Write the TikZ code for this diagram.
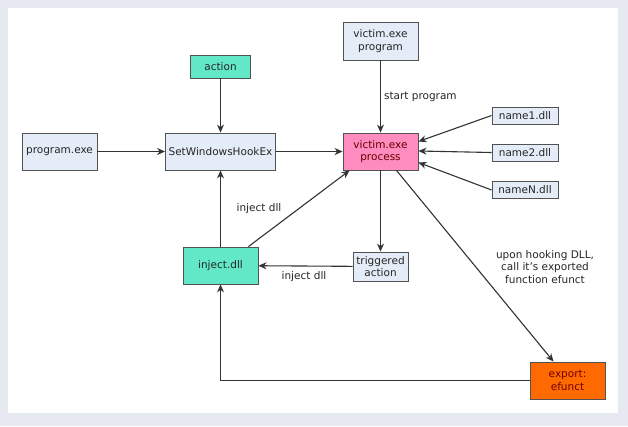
\documentclass[tikz,border=0pt]{standalone}
\usepackage{fontspec}
\setmainfont{DejaVu Sans}
\usetikzlibrary{positioning,arrows.meta}

\definecolor{framegray}{HTML}{E6EAF0}
\definecolor{boxblue}{HTML}{E4ECF7}
\definecolor{boxgreen}{HTML}{62E8C6}
\definecolor{boxpink}{HTML}{FF8CBE}
\definecolor{boxorange}{HTML}{FF6A00}
\definecolor{linegray}{HTML}{333333}

\begin{document}
\begin{tikzpicture}[x=1pt, y=-1pt, font=\fontsize{10.5}{12.5}\selectfont]
        \tikzstyle{box}=[draw=linegray!85, line width=0.9pt, fill=boxblue, inner sep=1pt, align=center, text=black!85]
        \tikzstyle{flow}=[draw=linegray, line width=1.1pt, -{Stealth[length=8pt, width=7pt]}]
        \tikzstyle{lbl}=[inner sep=1pt, align=center, text=black!85]

        % frame
        \fill[framegray] (0,0) rectangle (628,426);
        \fill[white] (8,8) rectangle (618,413);

        \node[box, fill=boxgreen, minimum width=60pt, minimum height=23pt] (act)   at (220.5,66.5)  {action};
        \node[box, minimum width=75pt, minimum height=37pt]                (prog)  at (59.5,151.5) {program.exe};
        \node[box, minimum width=110pt, minimum height=37pt]               (hook)  at (220.5,151.5) {SetWindowsHookEx};
        \node[box, minimum width=75pt, minimum height=38pt]                (vprog) at (380.5,41)  {victim.exe\\program};
        \node[box, fill=boxpink, text=red!40!black, minimum width=75pt, minimum height=37pt] (vproc) at (380.5,151.5) {victim.exe\\process};
        \node[box, minimum width=66pt, minimum height=17pt]                (dll1)  at (525,115.5) {name1.dll};
        \node[box, minimum width=66pt, minimum height=17pt]                (dll2)  at (525,152.5) {name2.dll};
        \node[box, minimum width=66pt, minimum height=17pt]                (dllN)  at (525,190)   {nameN.dll};
        \node[box, fill=boxgreen, minimum width=75pt, minimum height=37pt] (inj)   at (220.5,265.5) {inject.dll};
        \node[box, minimum width=55pt, minimum height=29pt]                (trig)  at (380.5,266.5) {triggered\\action};
        \node[box, fill=boxorange, text=red!45!black, minimum width=75pt, minimum height=37pt] (exp) at (567.5,380.5) {export:\\efunct};

        \draw[flow] (act) -- (hook);
        \draw[flow] (prog) -- (hook);
        \draw[flow] (hook) -- (vproc);
        \draw[flow] (vprog) -- node[lbl, right=2pt] {start program} (vproc);
        \draw[flow] (dll1.west) -- ([yshift=10pt]vproc.east);
        \draw[flow] (dll2.west) -- ([yshift=0.5pt]vproc.east);
        \draw[flow] (dllN.west) -- ([yshift=-11pt]vproc.east);
        \draw[flow] (inj) -- (hook);
        \draw[flow] ([xshift=-10pt]inj.north east) -- ([xshift=7pt]vproc.south west);
        \draw[flow] (vproc) -- (trig);
        \draw[flow] (trig) -- (inj);
        \draw[flow] ([xshift=16pt]vproc.south) -- ([xshift=-14pt]exp.north);
        \draw[flow] (exp.west) -| (inj.south);

        \node[lbl] (injlbl1) at (259,209) {inject dll};
        \node[lbl] (injlbl2) at (304,277) {inject dll};
        \node[lbl] (hooklbl) at (545,267) {upon hooking DLL,\\call it's exported\\function efunct};
\end{tikzpicture}
\end{document}
